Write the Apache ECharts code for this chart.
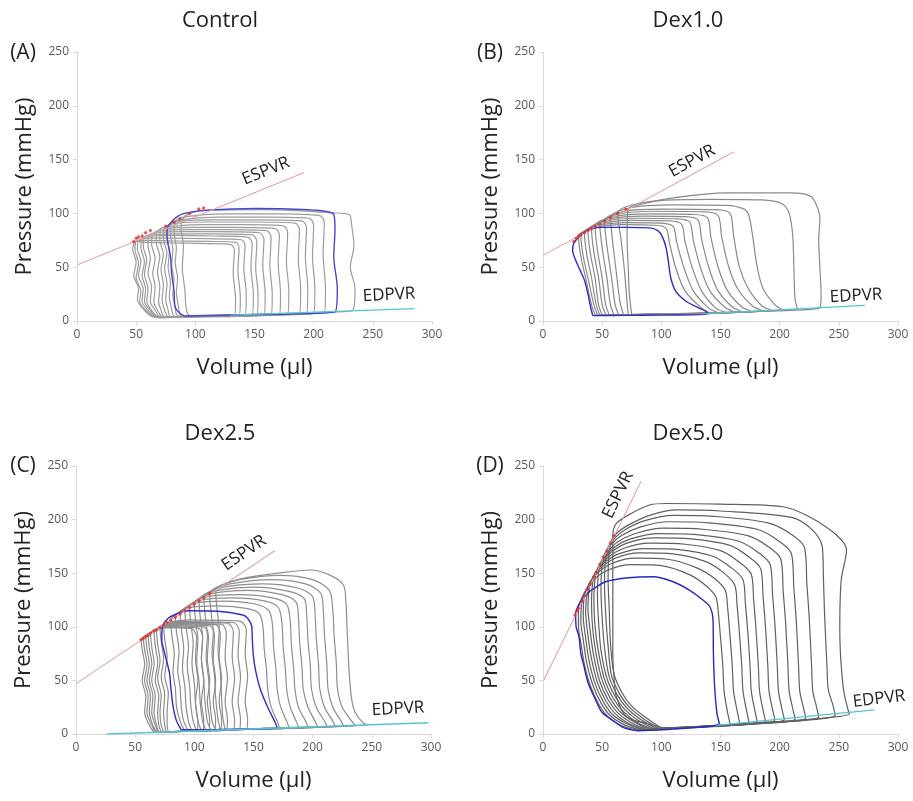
<!DOCTYPE html>
<html><head><meta charset="utf-8">
<script src="https://cdn.jsdelivr.net/npm/echarts/dist/echarts.min.js"></script>
<style>html,body{margin:0;padding:0;background:#fff}#c{width:913px;height:801px}</style>
</head><body><div id="c"></div>
<script>
// ---------- axis ticks / labels ----------
const volumeTicks = [0, 50, 100, 150, 200, 250, 300];
const pressureTicks = [0, 50, 100, 150, 200, 250];
const panelTitles = ['Control', 'Dex1.0', 'Dex2.5', 'Dex5.0'];
const panelLetters = ['(A)', '(B)', '(C)', '(D)'];
const xName = 'Volume (µl)';
const yName = 'Pressure (mmHg)';

// ---------- Panel A (Control): loops as flat [V,P, V,P, ...] ----------
const loopsA = [
 [68,3, 100,3.8, 133,4.5, 134,20, 132,45, 133,66, 130,71, 110,72, 80,72.5, 60,73, 50,74, 47,66, 50,55, 48,42, 52,30, 51,20, 56,11, 62,5, 68,3],
 [69,3, 100,3.9, 137,4.6, 138,22, 136,48, 137,68, 134,73, 110,74, 80,74.5, 60,75, 51,75, 49,66, 52,54, 50,40, 54,28, 53,18, 58,10, 63,5, 69,3],
 [70,3, 100,4, 142,4.8, 143,25, 141,50, 142,70, 139,75.5, 110,76.5, 80,77, 62,77, 53,76, 51,67, 54,56, 52,42, 56,30, 55,18, 60,10, 65,5, 70,3],
 [71,3.2, 105,4.2, 148,5, 149,25, 147,50, 148,72, 144,78, 115,79, 85,79.5, 65,79, 55,77, 54,68, 57,55, 55,42, 58,30, 57,18, 62,10, 66,5, 71,3.2],
 [72,3.3, 105,4.3, 152,5.2, 153,25, 151,50, 152,74, 148,80, 115,81, 85,81, 66,80.5, 57,78, 56,69, 59,57, 57,44, 60,30, 59,18, 63,10, 67,5, 72,3.3],
 [73,3.4, 110,4.4, 158,5.4, 159,25, 157,52, 158,76, 154,82, 120,83, 90,83, 70,82.5, 61,80, 60,70, 62,58, 60,44, 63,32, 62,18, 66,10, 69,5, 73,3.4],
 [74,3.5, 110,4.5, 164,5.6, 165,25, 163,52, 164,78, 160,84, 125,85, 95,85, 72,84, 64,81, 63,72, 66,58, 64,44, 66,32, 65,18, 68,10, 71,5, 74,3.5],
 [76,3.6, 115,4.6, 171,6, 172,25, 170,55, 171,80, 167,86, 130,87, 100,87, 76,86, 67,83, 67,73, 70,60, 68,46, 70,32, 69,18, 71,10, 73,5, 76,3.6],
 [78,3.7, 120,4.8, 178,6.3, 179,28, 177,55, 178,82, 174,88.5, 140,89.5, 105,89.5, 80,88, 70,85, 70,75, 73,62, 71,48, 73,34, 72,20, 74,10, 76,5, 78,3.7],
 [80,3.8, 125,5, 188,6.7, 189,30, 187,58, 188,85, 184,91, 150,92, 110,92, 85,91, 74,87, 73,77, 76,63, 74,49, 76,35, 75,20, 77,10, 78,5, 80,3.8],
 [83,4, 130,5.2, 194,7, 195,30, 193,60, 194,87, 190,93, 155,94, 115,94, 90,93, 77,89, 76,79, 78,64, 77,50, 79,36, 78,22, 80,11, 81,6, 83,4],
 [86,4, 135,5.4, 200,7.3, 201,30, 199,60, 200,89, 196,95.5, 160,96.5, 120,96.5, 95,95, 80,91, 79,80, 81,66, 80,52, 82,38, 81,24, 83,12, 84,6, 86,4],
 [88,4.2, 140,5.6, 209,7.8, 210,30, 208,62, 209,92, 205,98, 170,99.5, 125,99.5, 100,98, 84,94, 82,82, 84,68, 83,54, 85,40, 84,26, 86,12, 87,6, 88,4.2],
 [95,5, 160,6.5, 226,8.8, 233,10, 235,30, 231,50, 234,70, 232,90, 230,99, 215,100.5, 160,103.5, 115,103, 98,101, 90,96, 88,85, 90,70, 89,50, 91,30, 92,15, 93,8, 95,5]
];
const blueA = [91,4.6, 150,6, 218,8.5, 220,30, 217,60, 218,85, 217,99, 200,103, 150,104.5, 110,103, 95,101, 86,98, 77,88, 76,80, 79,60, 80,44, 82,28, 83,13, 87,7, 91,4.6];
const esA = [[48,74],[50,77],[52,78],[55,79],[58,82],[62,84],[75,88],[82,92],[87,95],[95,100],[103,104],[107,105]];
const espvrA = [[0,52],[192,138]];
const edpvrA = [[130,5.5],[285,11.5]];

// ---------- Panel B (Dex1.0) ----------
const loopsB = [
 [44,5.5, 80,6, 120,6.5, 142,7.1, 134,12, 120,28, 112,50, 107,72, 104,86, 95,89, 67,89.5, 45,87, 30,79, 32,60, 36,40, 41,15, 44,5.5],
 [46,5.5, 85,6, 125,6.7, 148,7.5, 140,12, 127,28, 119,50, 113,73, 110,88, 100,91, 72,91.5, 48,89, 32,80, 34,60, 38,40, 43,15, 46,5.5],
 [48,5.6, 90,6.1, 130,6.9, 154,7.8, 146,12, 134,28, 126,50, 120,74, 117,90, 107,93, 76,93.5, 51,91, 35,82, 37,62, 41,40, 45,15, 48,5.6],
 [50,5.6, 95,6.2, 135,7.1, 162,8.3, 154,12.5, 141,28, 133,50, 127,75, 124,92, 114,95, 80,95.5, 54,93, 38,84, 40,63, 44,40, 47,15, 50,5.6],
 [53,5.7, 100,6.3, 140,7.3, 168,8.6, 160,13, 148,28, 140,50, 134,76, 131,94, 120,97, 85,97.5, 57,95, 41,86, 43,64, 47,40, 50,15, 53,5.7],
 [56,5.7, 105,6.4, 150,7.6, 176,9.1, 168,13, 156,28, 148,50, 142,77, 139,96, 128,99, 90,99.5, 60,97, 44,88, 46,66, 50,40, 53,15, 56,5.7],
 [60,5.8, 110,6.6, 160,7.9, 185,9.6, 177,14, 165,29, 157,50, 151,78, 148,98, 137,101.5, 95,102, 64,99.5, 48,90, 50,68, 54,40, 57,15, 60,5.8],
 [64,5.8, 115,6.7, 165,8.3, 193,10, 185,14, 174,29, 166,50, 161,80, 158,100, 146,103.5, 100,104, 68,102, 52,93, 54,70, 58,40, 61,15, 64,5.8],
 [68,5.9, 120,6.9, 175,8.7, 202,10.6, 196,15, 186,30, 181,50, 177,80, 174,98, 170,104, 155,107.5, 110,108, 75,105.5, 57,96, 59,72, 62,45, 65,18, 68,5.9],
 [72,6, 130,7.2, 190,9.3, 215,11.2, 213,20, 212,50, 211,80, 208,100, 202,109, 185,112.5, 140,113, 90,111, 63,100, 66,75, 69,45, 71,18, 72,6],
 [75,6, 140,7.5, 200,9.9, 234,12.4, 235,25, 234,50, 233,75, 234,95, 231,108, 226,116, 210,119, 155,119, 110,114.5, 85,109, 72,104, 71,80, 72,50, 73,25, 75,6]
];
const blueB = [42,5, 70,5.2, 100,5.5, 140,6.5, 136,10, 128,14, 120,19, 112,28, 108,40, 106,55, 104,68, 101,78, 97,84, 90,86.5, 70,87, 50,87, 42,86, 36,83, 31,79, 26,72, 25,66, 27,58, 31,48, 35,38, 38,25, 40,14, 42,5];
const esB = [[26,74],[28,77],[30,79],[32,80],[35,82],[38,84],[41,86],[44,88],[48,90],[52,93],[57,96],[63,100],[70,104]];
const espvrB = [[0,61],[161,157]];
const edpvrB = [[138,6.8],[272,14.5]];

// ---------- Panel C (Dex2.5) ----------
const loopsC = [
 [66,1.6, 85,2.3, 102,3, 103,12, 101,30, 103,50, 101,70, 102,90, 98,98, 85,99, 70,99, 62,94, 55,88, 56,78, 58,65, 56,50, 59,35, 58,20, 62,8, 66,1.6],
 [67,1.6, 87,2.4, 107,3.2, 108,12, 106,30, 108,50, 106,70, 107,90, 103,99, 88,99.5, 72,99.5, 64,95, 57,89, 58,78, 60,65, 58,50, 61,35, 60,20, 64,8, 67,1.6],
 [68,1.6, 90,2.5, 112,3.3, 113,12, 111,30, 113,50, 111,70, 112,91, 108,100, 90,100.5, 74,100, 66,96, 59,91, 60,79, 62,65, 60,50, 63,35, 62,20, 65,8, 68,1.6],
 [69,1.7, 92,2.6, 117,3.5, 118,13, 116,30, 118,50, 116,70, 117,92, 113,101, 95,101.5, 76,101, 68,97, 61,92, 62,80, 64,66, 62,50, 65,35, 64,20, 67,8, 69,1.7],
 [70,1.7, 95,2.7, 122,3.7, 123,13, 121,30, 123,52, 121,72, 122,93, 118,102, 100,102.5, 80,102, 70,98, 63,94, 64,81, 66,66, 64,50, 67,35, 66,20, 68,8, 70,1.7],
 [72,1.8, 98,2.8, 127,3.9, 128,13, 126,30, 128,52, 126,72, 127,94, 123,102.5, 105,103, 82,103, 72,99.5, 66,96, 67,82, 69,67, 67,50, 70,35, 69,20, 70,8, 72,1.8],
 [74,1.9, 100,2.9, 133,4.1, 134,13, 132,30, 134,52, 132,73, 133,95, 128,103.5, 110,104, 85,104, 75,101, 68,97, 69,84, 71,68, 69,52, 72,36, 71,20, 72,8, 74,1.9],
 [76,1.9, 105,3, 138,4.3, 139,14, 137,30, 139,53, 137,74, 138,96, 133,104, 115,104.5, 90,105, 78,103, 71,99.5, 72,86, 74,70, 72,53, 75,37, 74,20, 75,8, 76,1.9],
 [78,2, 108,3.2, 144,4.5, 145,14, 143,30, 145,54, 143,75, 144,97, 139,105, 120,106, 95,106.5, 82,105, 74,102, 75,88, 77,72, 75,54, 78,38, 77,20, 77,8, 78,2],
 [92,2.5, 130,4, 172,5.6, 170,12, 165,25, 162,42, 161,60, 159,80, 158,100, 155,112, 145,117, 120,119.5, 95,118, 86,113, 80,106, 81,92, 83,75, 82,58, 84,42, 85,25, 88,12, 92,2.5],
 [95,2.7, 135,4.2, 180,5.9, 178,12, 173,25, 170,42, 169,60, 167,80, 166,102, 163,115, 152,121, 125,124, 100,122, 90,116, 84,109, 85,95, 87,77, 86,60, 88,43, 89,25, 91,12, 95,2.7],
 [98,2.8, 140,4.4, 188,6.3, 186,12, 181,25, 178,42, 177,60, 175,82, 174,104, 171,118, 160,124, 132,127, 105,125, 94,119, 88,112, 89,98, 91,80, 90,62, 92,44, 93,26, 95,12, 98,2.8],
 [102,3, 145,4.6, 196,6.6, 194,12, 188,25, 185,42, 184,60, 182,84, 181,106, 178,121, 166,127, 138,130, 110,128, 98,122, 92,115, 93,100, 95,82, 94,64, 96,45, 97,27, 99,12, 102,3],
 [106,3.1, 150,4.8, 204,6.9, 202,12, 196,25, 192,42, 191,62, 189,86, 188,108, 186,123, 174,130, 145,134, 115,131, 102,125, 96,118, 97,103, 99,85, 98,66, 100,47, 101,28, 103,12, 106,3.1],
 [110,3.2, 155,5, 212,7.2, 210,12, 203,25, 199,42, 198,64, 196,88, 195,110, 193,126, 180,133, 150,137, 120,134, 106,128, 100,121, 101,106, 103,88, 102,68, 104,48, 105,29, 107,12, 110,3.2],
 [114,3.4, 160,5.2, 219,7.5, 217,12, 210,25, 206,42, 205,64, 203,90, 202,112, 200,128, 188,136, 158,140, 125,137, 110,131, 104,124, 105,109, 107,90, 106,70, 108,50, 109,30, 111,12, 114,3.4],
 [118,3.5, 165,5.4, 226,7.7, 224,12, 217,25, 213,42, 212,65, 210,92, 209,114, 207,131, 194,140, 165,144, 130,140, 115,134, 108,127, 109,112, 111,92, 110,72, 112,52, 113,32, 115,12, 118,3.5],
 [122,3.7, 170,5.6, 236,8.1, 233,12, 225,25, 221,42, 220,66, 218,94, 217,116, 214,134, 200,144, 172,148, 138,144, 121,138, 113,131, 114,115, 116,95, 115,75, 117,55, 118,34, 120,14, 122,3.7],
 [126,3.9, 180,6, 247,8.5, 243,10, 236,20, 233,32, 231,55, 230,75, 229,100, 228,125, 226,139, 215,148, 198,153, 170,150, 140,145, 124,139, 118,134, 119,118, 121,98, 120,78, 122,58, 123,36, 124,16, 126,3.9]
];
const blueC = [89,4, 120,4.2, 150,4.8, 170,5.5, 168,11.5, 162,25, 156,41, 152,58, 150,72, 149,88, 148.6,100, 145,108, 141,111, 120,114.5, 94,115, 85,112, 78,108, 73,100, 72.5,88, 75,75, 79,57, 80,45, 82,26, 85,12, 89,4];
const esC = [[55,88],[57,89],[59,91],[61,92],[63,94],[66,96],[68,97],[71,99.5],[74,102],[77,104],[80,106],[84,109],[88,112],[92,115],[96,118],[100,121],[104,124],[108,127],[113,131]];
const espvrC = [[0,47],[168,171]];
const edpvrC = [[26,0],[298,10.5]];

// ---------- Panel D (Dex5.0) ----------
const loopsD = [
 [80,3.5, 120,6, 158,9.5, 156,20, 153,40, 152,63, 150,90, 148,115, 146,128, 138,138, 125,148, 100,157, 75,158, 55,153, 42,143, 35,132, 30,117, 30,100, 32,85, 35,65, 40,45, 47,28, 55,16, 66,8, 80,3.5],
 [82,3.7, 125,6.3, 166,10.5, 164,22, 161,40, 160,63, 158,92, 156,118, 154,134, 145,145, 130,155, 105,163, 78,164, 58,159, 45,149, 38,138, 33,124, 32,105, 34,88, 37,66, 42,46, 49,29, 57,17, 68,9, 82,3.7],
 [84,3.9, 130,6.6, 174,11, 172,22, 169,40, 168,63, 166,94, 164,120, 162,139, 152,151, 137,161, 110,168, 82,169, 61,164, 48,154, 40,142, 35,129, 34,110, 36,90, 39,68, 44,47, 51,30, 59,18, 70,10, 84,3.9],
 [86,4, 135,7, 181,11.5, 179,22, 176,40, 175,63, 173,96, 171,122, 169,144, 158,156, 143,166, 115,172, 86,173, 64,168, 51,159, 43,148, 38,135, 36,115, 38,92, 41,70, 46,48, 53,31, 61,19, 72,10, 86,4],
 [88,4.2, 140,7.3, 188,12, 186,22, 183,40, 182,63, 180,98, 178,125, 176,149, 165,161, 150,171, 120,177, 90,178, 68,173, 54,164, 46,153, 40,140, 38,118, 40,95, 43,72, 48,49, 55,32, 63,20, 74,11, 88,4.2],
 [90,4.4, 145,7.7, 196,13, 194,23, 191,40, 190,63, 188,100, 186,128, 184,154, 173,166, 158,176, 125,182, 94,183, 71,178, 57,169, 49,159, 43,147, 41,122, 42,98, 45,74, 50,50, 57,33, 65,21, 76,12, 90,4.4],
 [92,4.6, 150,8, 204,13.5, 202,23, 199,40, 198,63, 196,102, 194,130, 192,158, 181,170, 165,180, 130,186, 98,187, 74,182, 60,174, 51,163, 45,151, 43,125, 44,100, 47,76, 52,51, 59,34, 67,22, 78,12, 92,4.6],
 [94,4.8, 155,8.3, 213,14, 211,24, 208,40, 207,63, 205,104, 203,133, 201,163, 190,175, 173,185, 135,191, 102,192, 78,187, 63,179, 54,169, 48,158, 46,130, 47,104, 49,78, 54,52, 61,35, 69,23, 80,13, 94,4.8],
 [96,5, 160,8.8, 222,15, 220,25, 217,40, 216,63, 214,106, 212,136, 210,168, 198,181, 181,191, 140,197, 106,198, 82,193, 66,185, 57,176, 51,165, 49,135, 50,108, 52,80, 56,53, 63,36, 71,24, 82,14, 96,5],
 [98,5.2, 170,9.3, 233,16, 231,26, 228,40, 227,63, 225,108, 223,140, 221,174, 209,187, 190,197, 145,203, 110,204, 86,199, 70,191, 60,182, 54,171, 52,140, 53,112, 55,82, 58,54, 65,37, 73,25, 84,15, 98,5.2],
 [100,5.4, 180,10, 247,17.5, 245,27, 241,42, 240,63, 238,110, 237,145, 236,175, 228,190, 210,202, 150,208, 113,209, 90,204, 74,196, 63,188, 57,178, 55,145, 56,115, 57,85, 60,56, 67,38, 75,26, 86,16, 100,5.4],
 [102,5.6, 190,11, 259,19, 257.8,22.4, 253.6,44, 250.8,97, 252,143.7, 256.5,171.6, 248,185.6, 225,202.7, 203,212, 150,214.5, 104,215, 90,213.6, 75,206, 62,196.5, 59,185, 59,150, 59,110, 59,75, 60,53, 62,34.8, 70.5,16, 87.4,10, 102,5.6]
];
const blueD = [80,3, 110,4.5, 149,10, 147,19, 145,45, 144,75, 143.7,106, 141,118.7, 134,126, 124,134, 110,142, 93,146.7, 70,145.5, 53,142, 42,135, 37.5,131, 31,122, 27.6,112, 28,100, 30.4,90.8, 32,75, 34.7,62.8, 38,48, 44.5,31.7, 50,20, 58.6,13, 68,6, 80,3];
const esD = [[27,111],[29,115],[30,117],[33,124],[35,129],[38,135],[40,140],[43,147],[45,151],[48,158],[51,165],[54,171],[57,178],[60,185]];
const espvrD = [[0.5,50],[83,236]];
const edpvrD = [[146,8],[280,22.5]];

// ---------- build ----------
function pairs(flat) { const o = []; for (let i = 0; i < flat.length; i += 2) o.push([flat[i], flat[i + 1]]); return o; }

const FONT = 'Open Sans';
const panels = [
  { loops: loopsA, blue: blueA, es: esA, espvr: espvrA, edpvr: edpvrA, gray: '#9c9c9c', blueCol: '#4646c8',
    grid: { left: 77, top: 52, width: 355, height: 269 }, titleXY: [220, 21], letterXY: [23, 53],
    esTxt: [266, 171, 22], edTxt: [389, 295, 3] },
  { loops: loopsB, blue: blueB, es: esB, espvr: espvrB, edpvr: edpvrB, gray: '#8a8a8a', blueCol: '#2e2ec0',
    grid: { left: 543, top: 52, width: 355, height: 269 }, titleXY: [688, 21], letterXY: [490, 53],
    esTxt: [692, 161, 28.6], edTxt: [856, 296, 3] },
  { loops: loopsC, blue: blueC, es: esC, espvr: espvrC, edpvr: edpvrC, gray: '#8e8e8e', blueCol: '#2e2ec8',
    grid: { left: 76, top: 466, width: 355, height: 268 }, titleXY: [220, 434], letterXY: [23, 466],
    esTxt: [244, 553, 34], edTxt: [398, 709, 3] },
  { loops: loopsD, blue: blueD, es: esD, espvr: espvrD, edpvr: edpvrD, gray: '#606060', blueCol: '#2828c0',
    grid: { left: 543, top: 466, width: 355, height: 268 }, titleXY: [688, 434], letterXY: [490, 466],
    esTxt: [618, 495, 64], edTxt: [879, 699, 7] }
];

const grids = [], xAxes = [], yAxes = [], series = [], graphics = [];
panels.forEach((p, k) => {
  grids.push(Object.assign({ containLabel: false }, p.grid));
  xAxes.push({
    gridIndex: k, type: 'value', min: volumeTicks[0], max: volumeTicks[volumeTicks.length - 1], interval: volumeTicks[1] - volumeTicks[0],
    name: xName, nameLocation: 'middle', nameGap: 36,
    nameTextStyle: { fontSize: 22, color: '#222', fontFamily: FONT },
    axisLine: { show: true, lineStyle: { color: '#d9d9d9', width: 1 } },
    axisTick: { show: true, length: 4, lineStyle: { color: '#d9d9d9' } },
    splitLine: { show: false },
    axisLabel: { color: '#595959', fontSize: 12, margin: 8, fontFamily: FONT }
  });
  yAxes.push({
    gridIndex: k, type: 'value', min: pressureTicks[0], max: pressureTicks[pressureTicks.length - 1], interval: pressureTicks[1] - pressureTicks[0],
    name: yName, nameLocation: 'middle', nameGap: 41,
    nameTextStyle: { fontSize: 22, color: '#222', fontFamily: FONT },
    axisLine: { show: true, lineStyle: { color: '#d9d9d9', width: 1 } },
    axisTick: { show: true, length: 4, lineStyle: { color: '#d9d9d9' } },
    splitLine: { show: false },
    axisLabel: { color: '#595959', fontSize: 12, margin: 8, fontFamily: FONT }
  });
  p.loops.forEach((lp) => {
    series.push({ type: 'line', xAxisIndex: k, yAxisIndex: k, data: pairs(lp), showSymbol: false, smooth: 0.3,
      lineStyle: { color: p.gray, width: 1.2 }, z: 2, silent: true });
  });
  series.push({ type: 'line', xAxisIndex: k, yAxisIndex: k, data: pairs(p.blue), showSymbol: false, smooth: 0.3,
    lineStyle: { color: p.blueCol, width: 1.4 }, z: 3, silent: true });
  series.push({ type: 'line', xAxisIndex: k, yAxisIndex: k, data: p.espvr, showSymbol: false,
    lineStyle: { color: '#e3a3ab', width: 1.1 }, z: 4, silent: true });
  series.push({ type: 'line', xAxisIndex: k, yAxisIndex: k, data: p.edpvr, showSymbol: false,
    lineStyle: { color: '#56c3d3', width: 1.3 }, z: 4, silent: true });
  series.push({ type: 'scatter', xAxisIndex: k, yAxisIndex: k, data: p.es, symbol: 'diamond', symbolSize: 4,
    itemStyle: { color: '#e02828' }, z: 5, silent: true });

  graphics.push({ type: 'text', x: p.titleXY[0], y: p.titleXY[1],
    style: { text: panelTitles[k], font: '22px "' + FONT + '"', fill: '#222', align: 'center', verticalAlign: 'middle' } });
  graphics.push({ type: 'text', x: p.letterXY[0], y: p.letterXY[1],
    style: { text: panelLetters[k], font: '21px "' + FONT + '"', fill: '#222', align: 'center', verticalAlign: 'middle' } });
  graphics.push({ type: 'text', x: p.esTxt[0], y: p.esTxt[1], rotation: p.esTxt[2] * Math.PI / 180,
    style: { text: 'ESPVR', font: '17px "' + FONT + '"', fill: '#222', align: 'center', verticalAlign: 'middle' } });
  graphics.push({ type: 'text', x: p.edTxt[0], y: p.edTxt[1], rotation: p.edTxt[2] * Math.PI / 180,
    style: { text: 'EDPVR', font: '17px "' + FONT + '"', fill: '#222', align: 'center', verticalAlign: 'middle' } });
});

const chart = echarts.init(document.getElementById('c'), null, { renderer: 'canvas' });
chart.setOption({
  animation: false,
  backgroundColor: '#fff',
  textStyle: { fontFamily: FONT },
  grid: grids, xAxis: xAxes, yAxis: yAxes, series: series,
  graphic: graphics
});
</script></body></html>
